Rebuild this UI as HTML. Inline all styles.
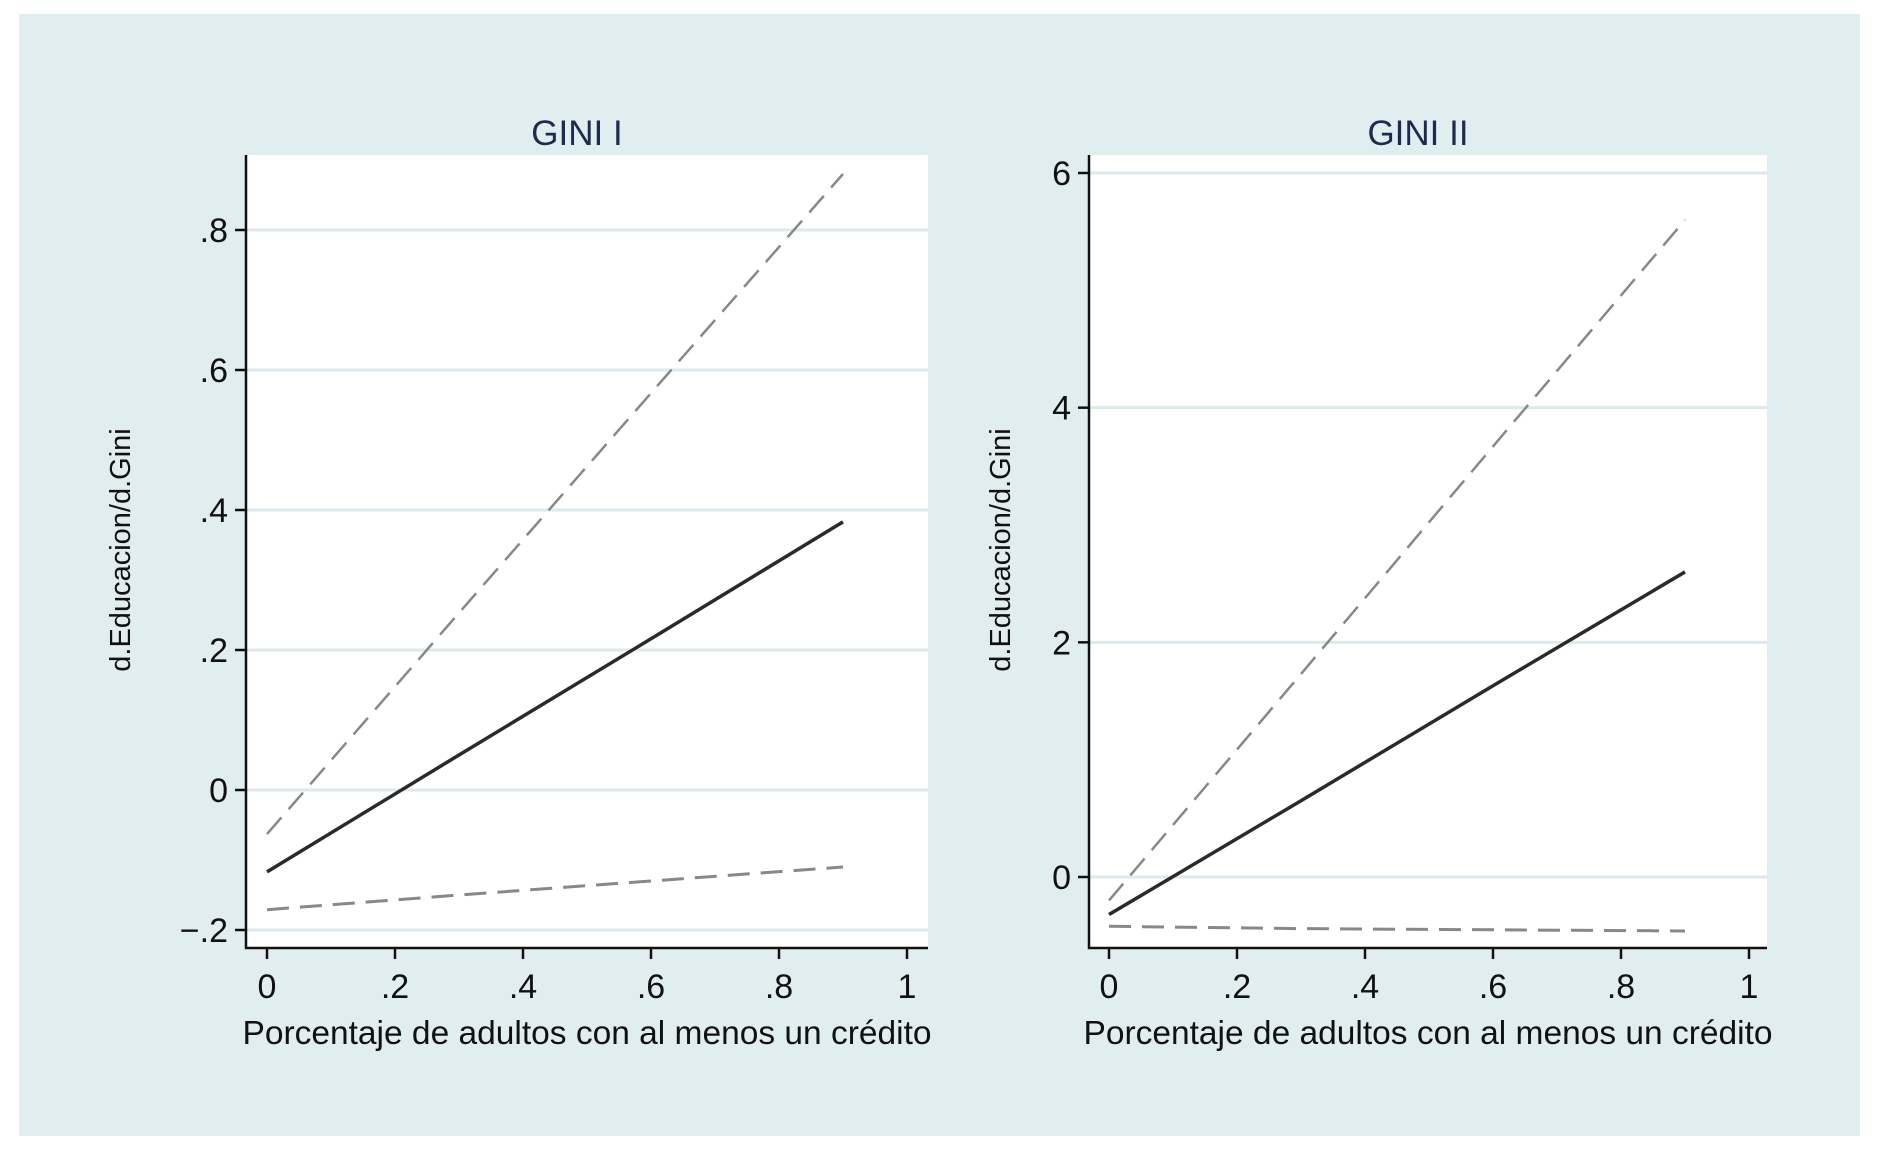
<!DOCTYPE html>
<html><head><meta charset="utf-8"><style>
html,body{margin:0;padding:0;background:#fff;}
svg{display:block;font-family:"Liberation Sans",Arial,sans-serif;}
</style></head><body>
<svg id="chart" width="1879" height="1150" viewBox="0 0 1879 1150">
<rect x="19" y="14" width="1841" height="1122" fill="#e1eef0"/>
<g id="p1"></g>
<g id="p2"></g>
</svg>
<script>
const xVals = [0, 0.3, 0.6, 0.9];
const p1Upper = [-0.063, 0.253, 0.567, 0.88];
const p1Mid = [-0.117, 0.05, 0.216, 0.383];
const p1Lower = [-0.171, -0.15, -0.13, -0.11];
const p1YTicks = [-0.2, 0, 0.2, 0.4, 0.6, 0.8];
const p1YLabels = ["\u2212.2", "0", ".2", ".4", ".6", ".8"];
const p2Upper = [-0.2, 1.73, 3.67, 5.6];
const p2Mid = [-0.32, 0.65, 1.63, 2.6];
const p2Lower = [-0.42, -0.44, -0.45, -0.46];
const p2YTicks = [0, 2, 4, 6];
const p2YLabels = ["0", "2", "4", "6"];
const xTicks = [0, 0.2, 0.4, 0.6, 0.8, 1];
const xLabels = ["0", ".2", ".4", ".6", ".8", "1"];
const NS = "http://www.w3.org/2000/svg";
function mk(parent, tag, attrs){const e=document.createElementNS(NS,tag);for(const k in attrs)e.setAttribute(k,attrs[k]);parent.appendChild(e);return e;}

function panel(g, cfg){
  const {left,right,top,bottom,x0px,x1px,yA,yApx,yB,yBpx,title,yt,yl,series,ytitleX} = cfg;
  const X = v => x0px + (x1px-x0px)*v;
  const Y = v => yApx + (yBpx-yApx)*(v-yA)/(yB-yA);
  const r = mk(g,'rect',{x:left,y:top,width:right-left,height:bottom-top,fill:'#fff'});
  
  
  yt.forEach((t,i)=>{
    const gl = mk(g,'line',{x1:left,x2:right,y1:Y(t),y2:Y(t),stroke:'#dde9ec','stroke-width':3});
    
    
    const tk = mk(g,'line',{x1:left-11,x2:left,y1:Y(t),y2:Y(t),stroke:'#111','stroke-width':2.5});
    
    
    const tl = mk(g,'text',{x:left-18,y:Y(t)+12,'text-anchor':'end','font-size':34,fill:'#111'});
    tl.textContent = yl[i];
    
    
  });
  xTicks.forEach((t,i)=>{
    const tk = mk(g,'line',{x1:X(t),x2:X(t),y1:bottom,y2:bottom+11,stroke:'#111','stroke-width':2.5});
    
    
    const tl = mk(g,'text',{x:X(t),y:bottom+50,'text-anchor':'middle','font-size':34,fill:'#111'});
    tl.textContent = xLabels[i];
    
    
  });
  series.forEach(s=>{
    const pts = xVals.map((x,i)=>X(x)+','+Y(s.v[i])).join(' ');
    const pl = mk(g,'polyline',{points:pts,fill:'none',stroke:s.c,'stroke-width':s.w});
    if(s.d) pl.setAttribute('stroke-dasharray',s.d);
    
    
  });
  const ax = mk(g,'path',{d:`M${left},${top} V${bottom} H${right}`,fill:'none',stroke:'#111','stroke-width':2.5});
  
  
  const tt = mk(g,'text',{x:(left+right)/2-10,y:145,'text-anchor':'middle','font-size':35,fill:'#1e2a4e'});
  tt.textContent = title;
  
  
  const xt = mk(g,'text',{x:(left+right)/2,y:1044,'text-anchor':'middle','font-size':33.5,fill:'#111'});
  xt.textContent = 'Porcentaje de adultos con al menos un crédito';
  
  
  const yT = mk(g,'text',{x:0,y:0,'text-anchor':'middle','font-size':29,fill:'#111',transform:`translate(${ytitleX},550) rotate(-90)`});
  yT.textContent = 'd.Educacion/d.Gini';
  
  
}
panel(document.getElementById('p1'),{left:246,right:928,top:155,bottom:948,x0px:267,x1px:907,yA:0,yApx:790,yB:-0.2,yBpx:930,
  title:'GINI I',yt:p1YTicks,yl:p1YLabels,ytitleX:130,
  series:[{v:p1Upper,c:'#888',w:2.5,d:'22 11',n:'upper-ci-line'},{v:p1Lower,c:'#888',w:3,d:'22 11',n:'lower-ci-line'},{v:p1Mid,c:'#2a2a2a',w:3.5,n:'estimate-line'}]});
panel(document.getElementById('p2'),{left:1089,right:1767,top:155,bottom:948,x0px:1109,x1px:1749,yA:0,yApx:877,yB:6,yBpx:173,
  title:'GINI II',yt:p2YTicks,yl:p2YLabels,ytitleX:1010,
  series:[{v:p2Upper,c:'#888',w:2.5,d:'22 11',n:'upper-ci-line'},{v:p2Lower,c:'#888',w:3,d:'22 11',n:'lower-ci-line'},{v:p2Mid,c:'#2a2a2a',w:3.5,n:'estimate-line'}]});
</script>
</body></html>
